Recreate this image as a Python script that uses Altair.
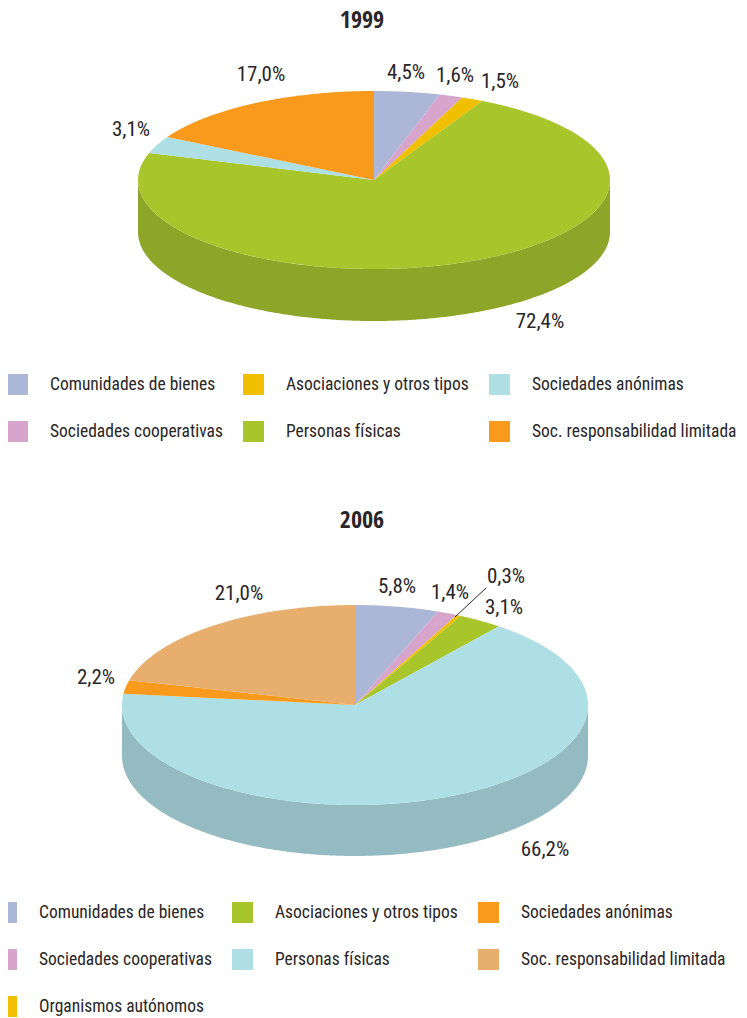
import math
import altair as alt
import pandas as pd

FONT = "Roboto Condensed"
TITLE_FONT = "Open Sans Condensed"
INK = "#2a2627"

# ---- values ----
names_1999 = ["Comunidades de bienes", "Sociedades cooperativas", "Asociaciones y otros tipos",
              "Personas físicas", "Sociedades anónimas", "Soc. responsabilidad limitada"]
values_1999 = [4.5, 1.6, 1.5, 72.4, 3.1, 17.0]
colors_1999 = ["#acb6d7", "#d7a4cb", "#f0c000", "#a8c62c", "#aedfe5", "#f99a1c"]
walls_1999 = ["#8a9cb0", "#ac83a2", "#c09a00", "#8da62a", "#8cb2b7", "#c77b16"]
legend_1999 = ["Comunidades de bienes", "Asociaciones y otros tipos", "Sociedades anónimas",
               "Sociedades cooperativas", "Personas físicas", "Soc. responsabilidad limitada"]
labels_1999 = ["4,5%", "1,6%", "1,5%", "72,4%", "3,1%", "17,0%"]
label_x_1999 = [406, 455, 500, 540, 131, 261]
label_y_1999 = [73, 76, 82, 322, 130, 75]

names_2006 = ["Comunidades de bienes", "Sociedades cooperativas", "Organismos autónomos",
              "Asociaciones y otros tipos", "Personas físicas", "Sociedades anónimas",
              "Soc. responsabilidad limitada"]
values_2006 = [5.8, 1.4, 0.3, 3.1, 66.2, 2.2, 21.0]
colors_2006 = ["#acb6d7", "#d7a4cb", "#f0c000", "#a8c62c", "#aedfe5", "#f99a1c", "#e8ae6e"]
walls_2006 = ["#8a92ac", "#ac83a2", "#c09a00", "#86a023", "#94bbc2", "#c77b16", "#ba8b58"]
legend_2006 = ["Comunidades de bienes", "Asociaciones y otros tipos", "Sociedades anónimas",
               "Sociedades cooperativas", "Personas físicas", "Soc. responsabilidad limitada",
               "Organismos autónomos"]
labels_2006 = ["5,8%", "1,4%", "0,3%", "3,1%", "66,2%", "2,2%", "21,0%"]
label_x_2006 = [397, 450, 506, 504, 545, 96, 239]
label_y_2006 = [587, 593, 577, 608, 850, 678, 594]

titles = ["1999", "2006"]
title_x = [362, 362]
title_y = [21, 521]


def tables(names, values, depth):
    """Unit-circle outlines of the slices; the x/y scales flatten them into an ellipse."""
    total = sum(values)
    top, wall, start = [], [], 0.0
    for name, v in zip(names, values):
        end = start + v / total * 360
        n = max(2, int((end - start) * 2))
        arc = [start + (end - start) * k / n for k in range(n + 1)]
        pts = [(0.0, 0.0)] + [(math.sin(math.radians(a)), math.cos(math.radians(a))) for a in arc]
        top += [dict(slice=name, i=i, x=p[0], y=p[1]) for i, p in enumerate(pts)]
        lo, hi = max(start, 90), min(end, 270)
        if hi > lo:
            m = max(2, int((hi - lo) * 2))
            front = [lo + (hi - lo) * k / m for k in range(m + 1)]
            upper = [(math.sin(math.radians(a)), math.cos(math.radians(a))) for a in front]
            lower = [(px, py - depth) for px, py in reversed(upper)]
            wall += [dict(slice=name, i=i, x=p[0], y=p[1]) for i, p in enumerate(upper + lower)]
        start = end
    return pd.DataFrame(top), pd.DataFrame(wall)


def pie(names, values, colors, walls, legend_order, cx, cy, rx, ry, depth_px, legend_x, legend_y,
        col_pad):
    top, wall = tables(names, values, depth_px / ry)
    x = alt.X("x:Q", axis=None, scale=alt.Scale(domain=[-1, 1], range=[cx - rx - 8, cx + rx - 8]))
    y = alt.Y("y:Q", axis=None, scale=alt.Scale(domain=[-1, 1], range=[cy + ry - 8, cy - ry - 8]))
    by_name = dict(zip(names, colors))
    wall_ch = alt.Chart(wall).mark_line(filled=True, interpolate="linear").encode(
        x=x, y=y, order="i:Q",
        color=alt.Color("slice:N", legend=None, scale=alt.Scale(domain=names, range=walls)),
    )
    top_ch = alt.Chart(top).mark_line(filled=True, interpolate="linear").encode(
        x=x, y=y, order="i:Q",
        color=alt.Color(
            "slice:N",
            scale=alt.Scale(domain=legend_order, range=[by_name[n] for n in legend_order]),
            legend=alt.Legend(
                title=None, orient="none", legendX=legend_x - 8, legendY=legend_y - 8, columns=3,
                direction="horizontal", gridAlign="each",
                symbolType="square", symbolSize=441, symbolStrokeWidth=0, symbolOpacity=1,
                labelFont=FONT, labelFontSize=17.5, labelColor=INK, labelOffset=22, labelLimit=300,
                rowPadding=26, columnPadding=col_pad, padding=0, offset=0,
            ),
        ),
    )
    return wall_ch, top_ch


def text_layer(texts, xs, ys, font=FONT, **kw):
    d = pd.DataFrame({"t": texts, "px": [v - 8 for v in xs], "py": [v - 8 for v in ys]})
    return alt.Chart(d).mark_text(font=font, color=INK, align="center", baseline="middle", **kw).encode(
        x=alt.X("px:Q", scale=None, axis=None), y=alt.Y("py:Q", scale=None, axis=None), text="t:N")


w1, t1 = pie(names_1999, values_1999, colors_1999, walls_1999, legend_1999,
             374, 180, 236, 89, 52, 7, 374, 20)
w2, t2 = pie(names_2006, values_2006, colors_2006, walls_2006, legend_2006,
             355, 705, 233, 100, 51, -4, 902, 20)

leader = pd.DataFrame({"x1": [478], "x2": [447], "y1": [580], "y2": [609]})
leader_ch = alt.Chart(leader).mark_rule(color=INK, strokeWidth=1).encode(
    x=alt.X("x1:Q", scale=None, axis=None), x2="x2:Q",
    y=alt.Y("y1:Q", scale=None, axis=None), y2="y2:Q")

chart = alt.layer(
    w1, t1, w2, t2, leader_ch,
    text_layer(labels_1999, label_x_1999, label_y_1999, fontSize=21),
    text_layer(labels_2006, label_x_2006, label_y_2006, fontSize=21),
    text_layer(titles, title_x, title_y, font=TITLE_FONT, fontSize=24, fontWeight="bold"),
).resolve_scale(x="independent", y="independent", color="independent").properties(
    width=731, height=1010, padding=0, autosize=alt.AutoSizeParams(type="none"),
).configure_view(stroke=None)

chart.save("out.html", embed_options={"renderer": "svg", "actions": False})
